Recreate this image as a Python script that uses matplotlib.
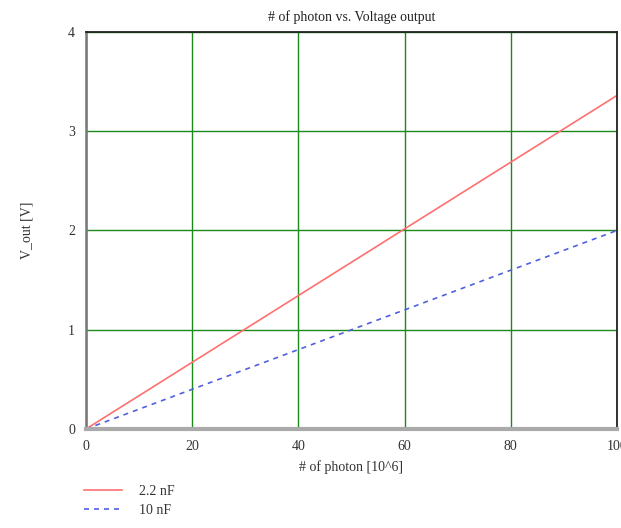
import matplotlib
matplotlib.use("Agg")
import matplotlib.pyplot as plt
import numpy as np

plt.rcParams["font.family"] = ["Liberation Serif", "DejaVu Serif"]

photons = np.array([0, 20, 40, 60, 80, 100])          # 10^6 photons
v_out_2p2nF = np.array([0, 0.672, 1.344, 2.016, 2.688, 3.36])
v_out_10nF = np.array([0, 0.40, 0.80, 1.20, 1.60, 2.00])
x_ticks = [0, 20, 40, 60, 80, 100]
y_ticks = [0, 1, 2, 3, 4]

fig = plt.figure(figsize=(6.21, 5.28), dpi=100)
ax = fig.add_axes([0.1385, 0.1875, 0.855, 0.752])

ax.plot(photons, v_out_2p2nF, color="#ff7070", lw=1.2, label="2.2 nF")
ax.plot(photons, v_out_10nF, color="#5060e0", lw=1.2, ls=(0, (3, 3)), label="10 nF")

ax.set_xlim(0, 100)
ax.set_ylim(0, 4)
ax.set_xticks(x_ticks)
ax.set_yticks(y_ticks)
ax.grid(True, color="#1a8a1a", lw=1.0)
ax.set_axisbelow(True)
ax.tick_params(length=0, labelsize=10, colors="#333333", pad=8)
for s in ax.spines.values():
    s.set_color("#222222")
    s.set_linewidth(1.3)
ax.spines["bottom"].set_color("#aaaaaa")
ax.spines["bottom"].set_linewidth(3)
ax.spines["left"].set_color("#777777")
ax.spines["left"].set_linewidth(1.8)

ax.set_title("# of photon vs. Voltage output", fontsize=10, color="#222222", pad=8)
ax.set_xlabel("# of photon [10^6]", fontsize=10, color="#333333", labelpad=5)
ax.set_ylabel("V_out [V]", fontsize=10, color="#333333", labelpad=25)

leg = fig.legend(loc="upper left", bbox_to_anchor=(0.136, 0.081), frameon=False,
                 fontsize=10, handlelength=2.7, labelspacing=0.4, handletextpad=1.2,
                 borderaxespad=0, borderpad=0)
for t in leg.get_texts():
    t.set_color("#333333")

fig.savefig("out.png", dpi=100)
